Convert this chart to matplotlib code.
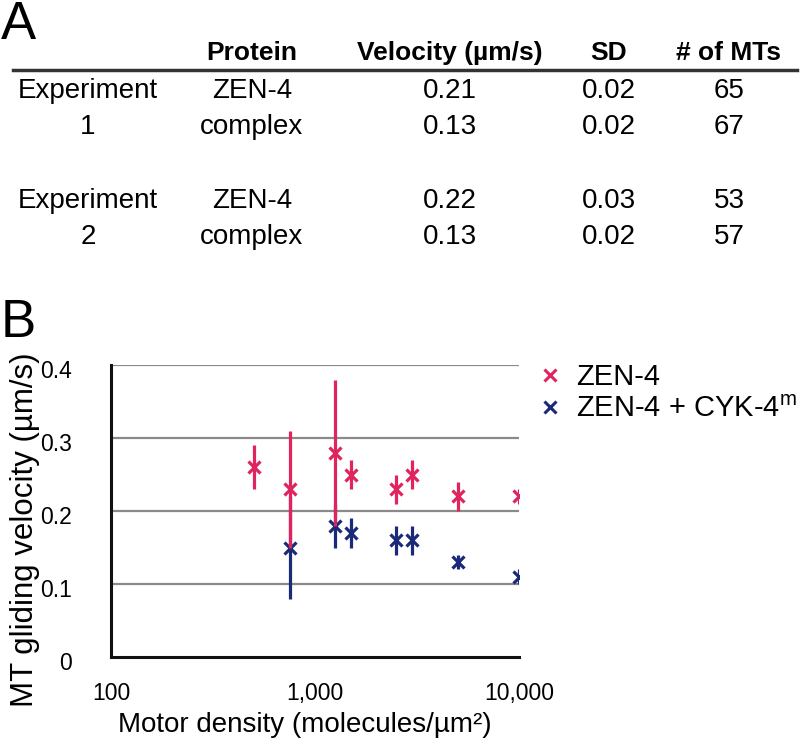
import matplotlib
matplotlib.use("Agg")
import matplotlib.pyplot as plt
from matplotlib.lines import Line2D
from matplotlib.transforms import ScaledTranslation
from matplotlib.ticker import FixedLocator, FixedFormatter, NullLocator

plt.rcParams['font.family'] = ['Liberation Sans', 'DejaVu Sans']
plt.rcParams['mathtext.fontset'] = 'custom'
plt.rcParams['mathtext.rm'] = 'Liberation Sans'

# ---- Table data (panel A) ----
table_headers = ["Protein", "Velocity (µm/s)", "SD", "# of MTs"]
experiments = ["Experiment\n1", "Experiment\n2"]
proteins = ["ZEN-4", "complex"]
velocity = [["0.21", "0.13"], ["0.22", "0.13"]]
sd = [["0.02", "0.02"], ["0.03", "0.02"]]
n_mts = [["65", "67"], ["53", "57"]]

# ---- Plot data (panel B) ----
zen4_density = [500, 750, 1250, 1500, 2500, 3000, 5000, 10000]
zen4_velocity = [0.26, 0.23, 0.28, 0.25, 0.23, 0.25, 0.22, 0.22]
zen4_sd = [0.03, 0.08, 0.10, 0.02, 0.02, 0.02, 0.02, 0.01]

cx_density = [750, 1250, 1500, 2500, 3000, 5000, 10000]
cx_velocity = [0.15, 0.18, 0.17, 0.16, 0.16, 0.13, 0.11]
cx_sd = [0.07, 0.03, 0.02, 0.02, 0.02, 0.01, 0.01]

x_ticks = [100, 1000, 10000]
x_ticklabels = ["100", "1,000", "10,000"]
y_ticks = [0, 0.1, 0.2, 0.3, 0.4]
y_ticklabels = ["0", "0.1", "0.2", "0.3", "0.4"]

PINK = "#E0245E"
NAVY = "#1B2A78"

W, H = 812, 747
fig = plt.figure(figsize=(W / 100, H / 100), dpi=100)

def fx(px):
    return px / W

def fy(py):
    return 1 - py / H

# ---- Panel A ----
fig.text(fx(1), fy(0), "A", fontsize=38, ha="left", va="top")
col_x = [88, 252, 450, 609, 729]
for hx, h in zip(col_x[1:], table_headers):
    fig.text(fx(hx), fy(53), h, fontsize=19, fontweight="bold", ha="center", va="center")
fig.add_artist(Line2D([fx(13), fx(797)], [fy(70), fy(70)], color="#333333", lw=2.5))

row_y = [[91, 127], [201, 237]]
for e in range(2):
    lab1, lab2 = experiments[e].split("\n")
    fig.text(fx(col_x[0]), fy(row_y[e][0]), lab1, fontsize=20, ha="center", va="center")
    fig.text(fx(col_x[0]), fy(row_y[e][1]), lab2, fontsize=20, ha="center", va="center")
    for r in range(2):
        yy = fy(row_y[e][r])
        fig.text(fx(col_x[1]), yy, proteins[r], fontsize=20, ha="center", va="center")
        fig.text(fx(col_x[2]), yy, velocity[e][r], fontsize=20, ha="center", va="center")
        fig.text(fx(col_x[3]), yy, sd[e][r], fontsize=20, ha="center", va="center")
        fig.text(fx(col_x[4]), yy, n_mts[e][r], fontsize=20, ha="center", va="center")

# ---- Panel B ----
fig.text(fx(1), fy(298), "B", fontsize=38, ha="left", va="top")

ax = fig.add_axes([fx(111), fy(657), (519 - 111) / W, (657 - 365) / H])
ax.set_xscale("log")
ax.set_xlim(100, 10000)
ax.set_ylim(0, 0.4)
for yv in y_ticks[1:]:
    ax.axhline(yv, color="#8a8a8a", lw=1.6, zorder=1)

ax.errorbar(cx_density, cx_velocity, yerr=cx_sd, fmt="none",
            ecolor=NAVY, elinewidth=2.3, capsize=0, zorder=3)
ax.plot(cx_density, cx_velocity, linestyle="none", marker="x",
        markersize=8, markeredgewidth=2.3, color=NAVY, zorder=4)
ax.errorbar(zen4_density, zen4_velocity, yerr=zen4_sd, fmt="none",
            ecolor=PINK, elinewidth=2.3, capsize=0, zorder=5)
ax.plot(zen4_density, zen4_velocity, linestyle="none", marker="x",
        markersize=8, markeredgewidth=2.3, color=PINK, zorder=6)

ax.xaxis.set_major_locator(FixedLocator(x_ticks))
ax.xaxis.set_major_formatter(FixedFormatter(x_ticklabels))
ax.xaxis.set_minor_locator(NullLocator())
ax.yaxis.set_major_locator(FixedLocator(y_ticks))
ax.yaxis.set_major_formatter(FixedFormatter(y_ticklabels))
ax.tick_params(axis="both", length=0, labelsize=16.5)
ax.tick_params(axis="x", pad=18)
ax.tick_params(axis="y", pad=28)
shift = ScaledTranslation(0, -4 / 100, fig.dpi_scale_trans)
for tick in ax.yaxis.get_major_ticks():
    tick.label1.set_transform(tick.label1.get_transform() + shift)
for s in ["top", "right"]:
    ax.spines[s].set_visible(False)
for s in ["left", "bottom"]:
    ax.spines[s].set_linewidth(2.2)
    ax.spines[s].set_color("#111111")

ax.set_xlabel("Motor density (molecules/µm²)", fontsize=20)
ax.xaxis.set_label_coords((305 - 111) / 408, -(712 - 657) / 292)
ax.set_ylabel("MT gliding velocity (µm/s)", fontsize=22.5)
ax.yaxis.set_label_coords(-(111 - 40) / 408, 0.435)

handles = [
    Line2D([], [], linestyle="none", marker="x", markersize=8, markeredgewidth=2.2, color=PINK),
    Line2D([], [], linestyle="none", marker="x", markersize=8, markeredgewidth=2.2, color=NAVY),
]
fig.legend(handles, ["ZEN-4", "ZEN-4 + CYK-4$^{\\mathrm{m}}$"], loc="upper left",
           bbox_to_anchor=(fx(535), fy(363)), frameon=False, fontsize=21,
           handlelength=1.0, handletextpad=0.4, labelspacing=0.15, borderpad=0,
           borderaxespad=0)

fig.savefig("out.png", dpi=100)
